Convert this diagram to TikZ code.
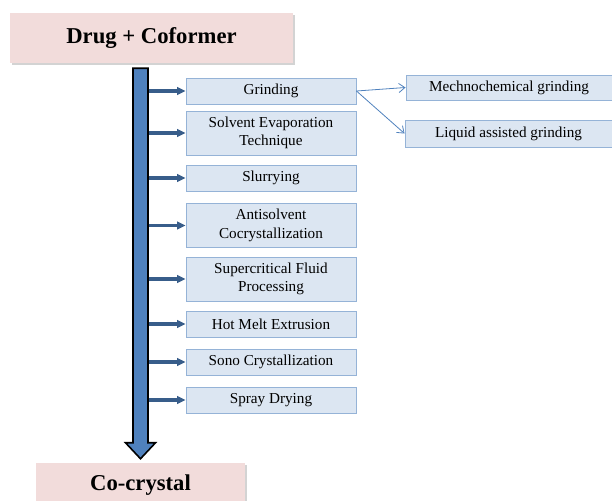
\documentclass[tikz,border=0pt]{standalone}
\usepackage{fontspec}
\setmainfont{Liberation Serif}
\definecolor{rosefill}{RGB}{242, 220, 219}
\definecolor{paleblue}{RGB}{220, 230, 242}
\definecolor{edgeblue}{RGB}{149, 179, 215}
\definecolor{midblue}{RGB}{79, 129, 189}
\definecolor{darkblue}{RGB}{56, 93, 138}
\usetikzlibrary{arrows.meta, positioning, calc, shadows}
\tikzset{
	endpoint/.style={rectangle, fill=rosefill, draw=none, align=center, minimum width=212.25pt, minimum height=37.5pt, font=\fontsize{17}{20}\selectfont\bfseries, drop shadow={shadow xshift=1.5pt, shadow yshift=-1.5pt, opacity=0.35}},
	method/.style={rectangle, draw=edgeblue, fill=paleblue, line width=0.7pt, align=center, minimum width=127.5pt, minimum height=19.5pt, inner sep=1pt, font=\fontsize{11.4}{14}\selectfont},
	tallmethod/.style={method, minimum height=33pt},
	submethod/.style={method, minimum width=154.5pt},
	spine/.style={fill=midblue, draw=black, line width=1.2pt, line join=miter},
	branch/.style={-{Triangle[length=2.2mm, width=2mm]}, line width=2.4pt, draw=darkblue},
	softarrow/.style={-{Straight Barb[length=1.6mm, width=2.4mm]}, line width=0.6pt, draw=midblue},
}
\begin{document}
\begin{tikzpicture}[x=0.75pt, y=-0.75pt]
		\useasboundingbox (0,0) rectangle (612,501);
		\node[endpoint] (drug) at (151.5,38) {Drug + Coformer};
		\node[endpoint, minimum width=156.75pt, minimum height=33pt] (cocrystal) at (140.5,485) {Co-crystal};
		\node[method] (grind) at (271,91) {Grinding};
		\node[tallmethod] (solvent) at (271,133) {Solvent Evaporation\\Technique};
		\node[method] (slurry) at (271,178) {Slurrying};
		\node[tallmethod] (antisolv) at (271,225.5) {Antisolvent\\Cocrystallization};
		\node[tallmethod] (supercrit) at (271,279) {Supercritical Fluid\\Processing};
		\node[method] (hotmelt) at (271,324) {Hot Melt Extrusion};
		\node[method] (sono) at (271,362) {Sono Crystallization};
		\node[method] (spray) at (271,400) {Spray Drying};
		\node[submethod, minimum height=18.75pt] (mecho) at (509,87.5) {Mechnochemical grinding};
		\node[submethod, minimum width=155.25pt, minimum height=20.25pt] (liquid) at (508.5,133.5) {Liquid assisted grinding};
		% main down arrow
		\path (cocrystal.north) ++(0,-4) coordinate (tip);
		\path (tip |- drug.south) ++(0,5) coordinate (tail);
		\filldraw[spine] ($(tail)+(-7.5,0)$) -- ($(tail)+(7.5,0)$) -- ($(tip)+(7.5,-16)$) -- ($(tip)+(15,-16)$) -- (tip) -- ($(tip)+(-15,-16)$) -- ($(tip)+(-7.5,-16)$) -- cycle;
		\coordinate (spineR) at ($(tail)+(8,0)$);
		\foreach \m in {grind, solvent, slurry, antisolv, supercrit, hotmelt, sono, spray}
			\draw[branch] (\m.west -| spineR) -- (\m.west);
		\draw[softarrow] (grind.east) -- (mecho.west);
		\draw[softarrow] (grind.east) -- (liquid.west);
	\end{tikzpicture}
\end{document}
